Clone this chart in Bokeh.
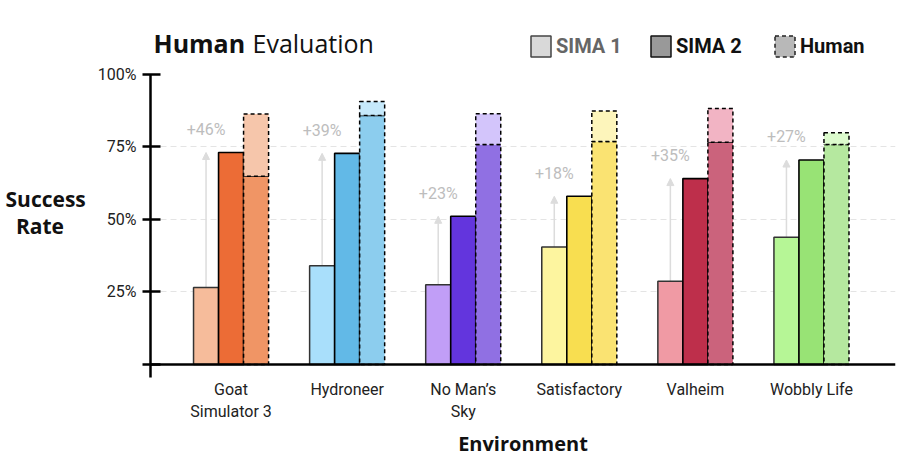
from bokeh.plotting import figure
from bokeh.layouts import column
from bokeh.models import (ColumnDataSource, Range1d, FixedTicker, Label, Span,
                          Arrow, NormalHead, Legend, LegendItem)
from bokeh.transform import dodge
from bokeh.core.properties import value
from bokeh.embed import file_html
from bokeh.resources import INLINE

# ---------------- data ----------------
environments = ["Goat\nSimulator 3", "Hydroneer", "No Man\u2019s\nSky",
                "Satisfactory", "Valheim", "Wobbly Life"]
sima1 = [26.5, 34.0, 27.5, 40.5, 28.7, 43.9]
sima2 = [73.1, 72.8, 51.1, 58.0, 64.1, 70.5]
human_low = [64.9, 85.9, 75.9, 76.9, 76.6, 75.9]
human_high = [86.4, 90.7, 86.5, 87.4, 88.3, 79.9]
gain_labels = ["+46%", "+39%", "+23%", "+18%", "+35%", "+27%"]

sima1_colors = ["#f6bc9b", "#a9dffb", "#c19ef7", "#fdf59f", "#f09aa4", "#b6f696"]
sima2_colors = ["#ec6c36", "#62b9e7", "#6335dd", "#f8de50", "#be2f4b", "#98e375"]
human_low_colors = ["#f09565", "#8ccdee", "#9070e3", "#fae372", "#cb637c", "#b5e89f"]
human_high_colors = ["#f6c6ab", "#c6e9fb", "#d3c5fb", "#fdf5bb", "#f2b4c4", "#dcfbcd"]

y_ticks = [0, 25, 50, 75, 100]
y_tick_labels = ["", "25%", "50%", "75%", "100%"]

legend_labels = ["SIMA 1", "SIMA 2", "Human"]

# ---------------- style constants ----------------
BW = 0.2155          # bar width in group units
FONT = "Roboto"
HFONT = "Open Sans"
FRAME_L, FRAME_R = 150, 895   # frame edges in page pixels (shared by both figures)
NAN = float("nan")

xs = list(range(len(environments)))
src = ColumnDataSource(dict(
    x=xs,
    xa=[i - BW for i in xs],
    sima1=sima1, sima2=sima2,
    hl=human_low, hh=human_high,
    c1=sima1_colors, c2=sima2_colors, c3=human_low_colors, c4=human_high_colors,
    gain=gain_labels,
    gy=[v + 8 for v in sima2],
))

# ---------------- header (title + legend) ----------------
hdr = figure(width=916, height=60, x_range=Range1d(FRAME_L, FRAME_R),
             y_range=Range1d(0, 60),
             output_backend="svg", toolbar_location=None,
             min_border_left=FRAME_L, min_border_right=916 - FRAME_R,
             min_border_top=0, min_border_bottom=0,
             x_axis_type=None, y_axis_type=None)
hdr.outline_line_color = None

hdr.add_layout(Label(x=153, y=18, text="Human", text_font=HFONT,
                     text_font_style="bold", text_font_size="25px",
                     text_baseline="middle", text_color="#111111"))
hdr.add_layout(Label(x=252, y=18, text="Evaluation", text_font=HFONT,
                     text_font_size="25px", text_baseline="middle",
                     text_color="#111111"))

box_fill = ["#d9d9d9", "#999999", "#b8b8b8"]
box_line = ["#444444", "#111111", "#222222"]
box_dash = ["solid", "solid", "4 3"]
text_colors = ["#666666", "#111111", "#111111"]
legend_x = [528, 648, 772]
for lab, bf, bc, bd, tc, lx in zip(legend_labels, box_fill, box_line, box_dash,
                                    text_colors, legend_x):
    r = hdr.vbar(x=[NAN], top=[NAN], width=1, fill_color=bf, line_color=bc,
                 line_width=1.5, line_dash=bd)
    leg = Legend(items=[LegendItem(label=lab, renderers=[r])],
                 location=(lx - FRAME_L, 1),
                 orientation="horizontal", glyph_width=25, glyph_height=26,
                 label_standoff=3, padding=0, margin=0, border_line_color=None,
                 background_fill_alpha=0, label_text_font=FONT,
                 label_text_font_style="bold", label_text_font_size="20px",
                 label_text_color=tc, label_height=26)
    hdr.add_layout(leg)

# ---------------- main chart ----------------
p = figure(width=916, height=400,
           x_range=Range1d(-0.694, 5.724), y_range=Range1d(-4.5, 100),
           output_backend="svg", toolbar_location=None,
           min_border_left=FRAME_L, min_border_right=916 - FRAME_R,
           min_border_top=14, min_border_bottom=81)
p.outline_line_color = None

# grid
p.xgrid.visible = False
p.ygrid.ticker = FixedTicker(ticks=[25, 50, 75, 100])
p.ygrid.grid_line_color = "#e4e4e4"
p.ygrid.grid_line_dash = "6 4"
p.ygrid.grid_line_width = 1

# y axis
p.yaxis.ticker = FixedTicker(ticks=y_ticks)
p.yaxis.major_label_overrides = {t: l for t, l in zip(y_ticks, y_tick_labels)}
p.yaxis.axis_line_width = 2.5
p.yaxis.axis_line_color = "black"
p.yaxis.major_tick_line_width = 2.5
p.yaxis.major_tick_line_color = "black"
p.yaxis.major_tick_in = 10
p.yaxis.major_tick_out = 8
p.yaxis.minor_tick_line_color = None
p.yaxis.major_label_text_font = FONT
p.yaxis.major_label_text_font_size = "16px"
p.yaxis.major_label_text_color = "#222222"
p.yaxis.major_label_standoff = 6
p.yaxis.axis_label = "Success\nRate\u00a0\u00a0\u00a0\u00a0\n\u00a0"
p.yaxis.axis_label_orientation = "horizontal"
p.yaxis.axis_label_text_font = HFONT
p.yaxis.axis_label_text_font_style = "bold"
p.yaxis.axis_label_text_font_size = "21px"
p.yaxis.axis_label_text_color = "#111111"
p.yaxis.axis_label_text_line_height = 0.95
p.yaxis.axis_label_standoff = 9

# x axis
p.xaxis.ticker = FixedTicker(ticks=xs)
p.xaxis.major_label_overrides = {i: e for i, e in zip(xs, environments)}
p.xaxis.axis_line_color = None
p.xaxis.major_tick_line_color = None
p.xaxis.minor_tick_line_color = None
p.xaxis.major_tick_in = 0
p.xaxis.major_tick_out = 0
p.xaxis.major_label_text_font = FONT
p.xaxis.major_label_text_font_size = "16px"
p.xaxis.major_label_text_color = "#222222"
p.xaxis.major_label_standoff = 2
p.xaxis.axis_label = "Environment"
p.xaxis.axis_label_text_font = HFONT
p.xaxis.axis_label_text_font_style = "bold"
p.xaxis.axis_label_text_font_size = "20px"
p.xaxis.axis_label_text_color = "#111111"
p.xaxis.axis_label_standoff = 6

# baseline
p.add_layout(Span(location=0, dimension="width", line_color="black", line_width=2.5))

# bars
p.vbar(x=dodge("x", -BW), top="sima1", bottom=0, width=BW, source=src,
       fill_color="c1", line_color="#333333", line_width=1.5)
p.vbar(x="x", top="sima2", bottom=0, width=BW, source=src,
       fill_color="c2", line_color="black", line_width=1.6)
p.vbar(x=dodge("x", BW), top="hl", bottom=0, width=BW, source=src,
       fill_color="c3", line_color="black", line_width=1.5, line_dash="4 3")
p.vbar(x=dodge("x", BW), top="hh", bottom="hl", width=BW, source=src,
       fill_color="c4", line_color="black", line_width=1.5, line_dash="4 3")

# arrows and gain labels
p.add_layout(Arrow(end=NormalHead(size=7, fill_color="#dcdcdc", line_color="#dcdcdc"),
                   x_start="xa", y_start="sima1", x_end="xa", y_end="sima2",
                   line_color="#dcdcdc", line_width=1.5, source=src, level="underlay"))
p.text(x="xa", y="gy", text="gain", source=src, text_align="center",
       text_baseline="middle", text_color="#bdbdbd", text_font_size="16px",
       text_font=value(FONT))

open("out.html", "w").write(file_html(column(hdr, p), INLINE))
